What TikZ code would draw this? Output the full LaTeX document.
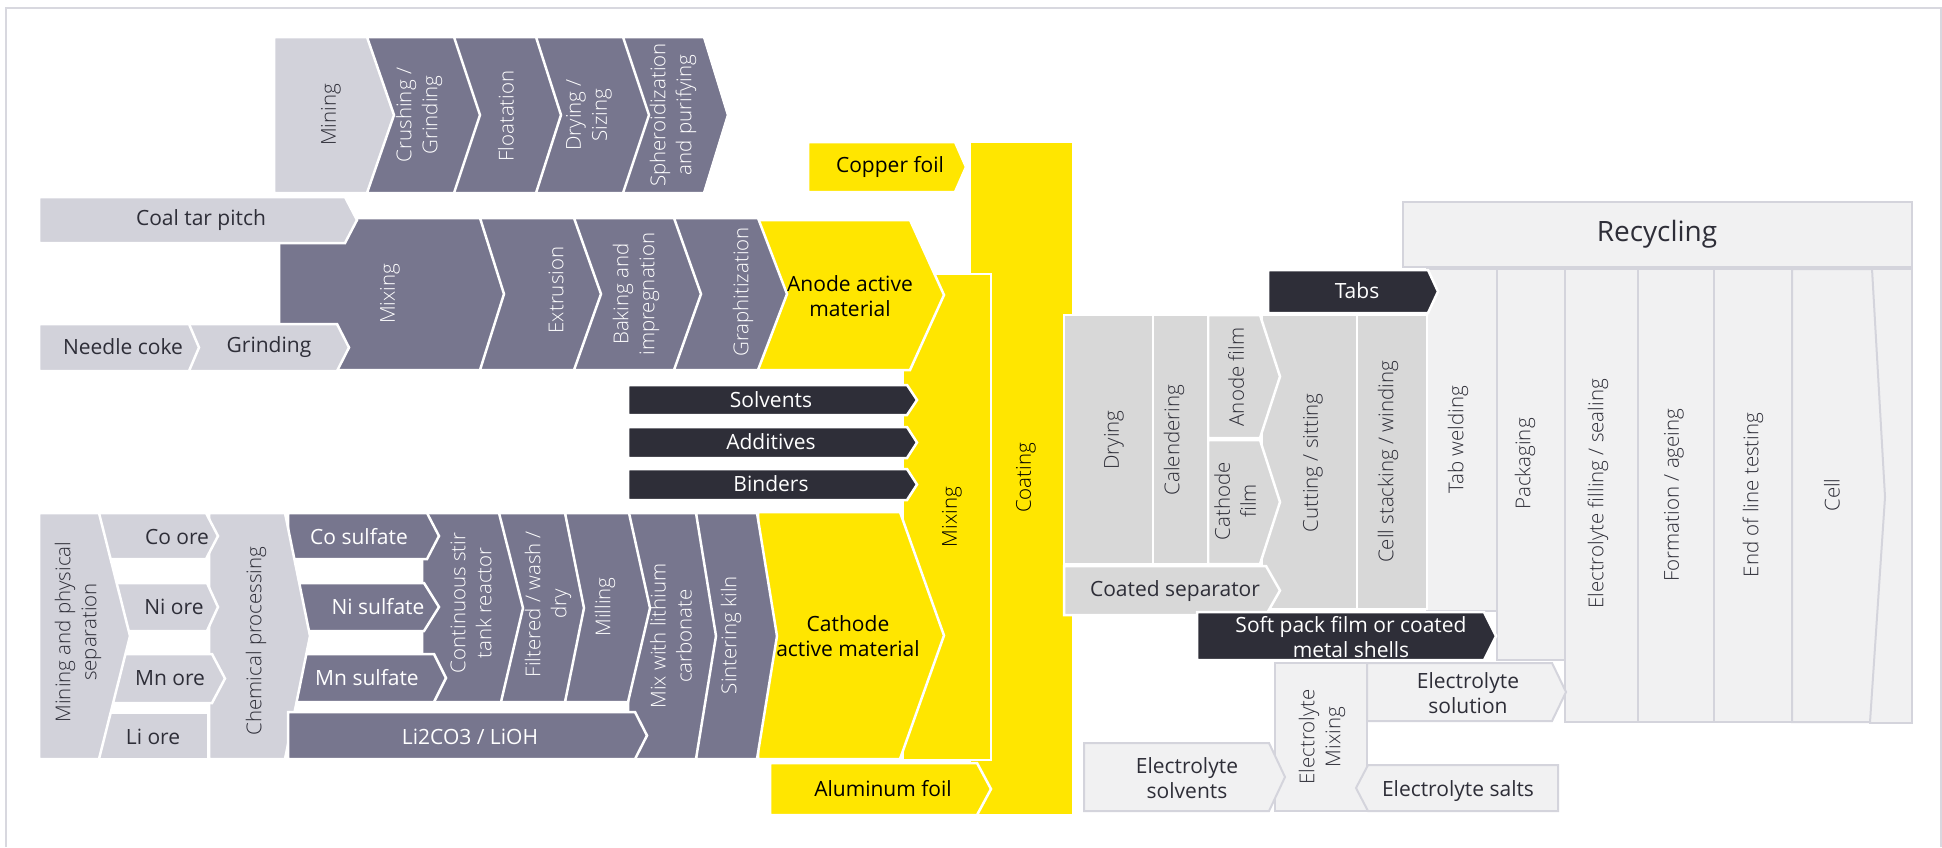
\documentclass[tikz,border=0pt]{standalone}
\usepackage{fontspec}
\setmainfont{Open Sans}
\newfontfamily\lightfont{Open Sans}[UprightFont={* Light}]
\definecolor{cY}{HTML}{FFE600}
\definecolor{cD}{HTML}{2E2E38}
\definecolor{cM}{HTML}{77768E}
\definecolor{cL}{HTML}{D2D2DA}
\definecolor{cG}{HTML}{D8D8D8}
\definecolor{cR}{HTML}{F1F1F2}
\definecolor{cRL}{HTML}{D4D4DC}
\definecolor{cF}{HTML}{D8D8DF}
\newcommand{\chevbox}[6]{\path[#1] (#2,#3) -- (#4,#3) -- ({#4+#6},{(#3+#5)/2}) -- (#4,#5) -- (#2,#5) -- cycle;}
\tikzset{
  base/.style={draw=white, line width=2.5pt, line join=miter},
  ylw/.style={base, fill=cY},
  drk/.style={base, fill=cD},
  mid/.style={base, fill=cM},
  ltg/.style={base, fill=cL},
  cgr/.style={base, fill=cG},
  rcy/.style={draw=cRL, line width=2pt, fill=cR},
  lab/.style={font=\fontsize{21}{25}\selectfont, align=center, inner sep=0pt},
  vlab/.style={rotate=90, font=\lightfont\fontsize{20.5}{26}\selectfont, align=center, inner sep=0pt},
  wtext/.style={text=white},
  dtext/.style={text=cD},
  ytext/.style={text=black}
}
\begin{document}
\begin{tikzpicture}[x=1pt,y=-1pt]
\useasboundingbox (0,0) rectangle (1942,847);
\fill[white] (0,0) rectangle (1942,847);
\draw[cF, line width=2pt] (6,847) -- (6,7.5) -- (1940.5,7.5) -- (1940.5,847);

% ---------- top row (graphite) ----------
\chevbox{mid}{623}{37}{704}{193}{24}
\chevbox{mid}{536}{37}{623}{193}{26}
\chevbox{mid}{454}{37}{536}{193}{25}
\chevbox{mid}{367}{37}{454}{193}{26}
\chevbox{ltg}{274}{37}{367}{193}{27}

% ---------- yellow coating / mixing ----------
\path[ylw] (970,142) rectangle (1073,815);
\chevbox{ylw}{808}{142}{955}{192}{11}
\path[ylw] (903,274) rectangle (991,760);
\chevbox{drk}{628}{385}{907}{415}{10}
\chevbox{drk}{628}{427}{907}{458}{10}
\chevbox{drk}{628}{469}{907}{500}{10}

% ---------- anode row ----------
\chevbox{ylw}{758}{220}{910}{370}{34}
\chevbox{mid}{674}{218}{758}{370}{29}
\chevbox{mid}{574}{218}{674}{370}{27}
\chevbox{mid}{480}{218}{574}{370}{27}
\chevbox{mid}{279}{218}{480}{370}{24}
\chevbox{ltg}{189}{324}{337}{371}{12}
\chevbox{ltg}{39}{324}{189}{371}{10}
\chevbox{ltg}{39}{197}{345}{243}{12}

% ---------- cathode row ----------
\chevbox{ylw}{758}{512}{900}{759}{44}
\chevbox{mid}{696}{513}{757}{759}{20}
\chevbox{mid}{628}{513}{696}{759}{20}
\path[mid] (565,513) -- (629,513) -- (650,608) -- (628,702) -- (565,702) -- cycle;
\path[mid] (499,513) -- (565,513) -- (584,608) -- (565,702) -- (499,702) -- cycle;
\path[mid] (422,513) -- (499,513) -- (523,608) -- (501,702) -- (422,702) -- cycle;
\chevbox{mid}{288}{654}{434}{702}{12}
\chevbox{mid}{288}{583}{424}{631}{15}
\chevbox{mid}{288}{513}{427}{559}{12}
\chevbox{ltg}{209}{513}{285}{759}{25}
\chevbox{mid}{288}{712}{635}{759}{12}
\chevbox{ltg}{99}{513}{206}{559}{12}
\chevbox{ltg}{99}{583}{207}{631}{11}
\chevbox{ltg}{99}{654}{212}{703}{13}
\path[ltg] (99,713) rectangle (208,759);
\chevbox{ltg}{39}{513}{99}{759}{31}
\chevbox{ylw}{770}{763}{977}{815}{14}

% ---------- recycling / cell ----------
\path[rcy] (1403,202) rectangle (1912,267);
\path[rcy] (1870,269) rectangle (1912,723);
\path[rcy] (1792,269) -- (1872,269) -- (1885,497) -- (1870,722) -- (1792,722) -- cycle;
\path[rcy] (1714,269) rectangle (1792,722);
\path[rcy] (1638,269) rectangle (1714,722);
\path[rcy] (1565,269) rectangle (1638,722);
\path[rcy] (1497,269) rectangle (1565,660);
\path[rcy] (1427,269) rectangle (1497,611);
\chevbox{rcy}{1367}{663}{1552}{721}{14}
\path[rcy] (1275,663) rectangle (1367,811);
\chevbox{rcy}{1084}{743}{1269}{811}{16}
\path[rcy] (1368,765) -- (1558,765) -- (1558,811) -- (1368,811) -- (1356,788) -- cycle;

% ---------- electrode / cell assembly ----------
\path[cgr] (1357,315) rectangle (1427,609);
\path[cgr] (1262,315) rectangle (1357,609);
\chevbox{cgr}{1208}{315}{1260}{438}{20}
\chevbox{cgr}{1208}{440}{1260}{564}{20}
\path[cgr] (1153,315) rectangle (1208,564);
\path[cgr] (1064,315) rectangle (1153,564);
\chevbox{cgr}{1064}{566}{1266}{615}{14}
\chevbox{drk}{1268}{270}{1428}{313}{10}
\chevbox{drk}{1197}{612}{1484}{660}{12}

% ---------- labels: top row ----------
\node[vlab, dtext] (mining1) at (331,115) {Mining};
\node[vlab, wtext] (crush) at (419,115) {Crushing /\\Grinding};
\node[vlab, wtext] (floatn) at (506,116) {Floatation};
\node[vlab, wtext] (drysz) at (589,115) {Drying /\\Sizing};
\node[vlab, wtext] (sphero) at (673,115) {Spheroidization\\and purifying};

% ---------- labels: anode ----------
\node[lab, dtext] (coal) at (201,220) {Coal tar pitch};
\node[lab, dtext] (needle) at (123,347) {Needle coke};
\node[lab, dtext] (grind) at (269,347) {Grinding};
\node[vlab, wtext] (amix) at (390,294) {Mixing};
\node[vlab, wtext] (extr) at (556,290) {Extrusion};
\node[vlab, wtext] (bake) at (636,294) {Baking and\\impregnation};
\node[vlab, wtext] (graph) at (743,292) {Graphitization};
\node[lab, ytext] (aam) at (850,296) {Anode active\\material};
\node[lab, ytext] (copper) at (890,167) {Copper foil};
\node[lab, wtext] (solv) at (771,400) {Solvents};
\node[lab, wtext] (addi) at (771,442) {Additives};
\node[lab, wtext] (bind) at (771,484) {Binders};
\node[vlab, ytext] (ymix) at (952,517) {Mixing};
\node[vlab, ytext] (coat) at (1026,478) {Coating};

% ---------- labels: cathode ----------
\node[vlab, dtext] (minsep) at (78,632) {Mining and physical\\separation};
\node[lab, dtext] (coore) at (177,537) {Co ore};
\node[lab, dtext] (niore) at (174,607) {Ni ore};
\node[lab, dtext] (mnore) at (170,678) {Mn ore};
\node[lab, dtext] (liore) at (153,737) {Li ore};
\node[vlab, dtext] (chem) at (256,641) {Chemical processing};
\node[lab, wtext] (cosulf) at (359,537) {Co sulfate};
\node[lab, wtext] (nisulf) at (378,607) {Ni sulfate};
\node[lab, wtext] (mnsulf) at (367,678) {Mn sulfate};
\node[vlab, wtext] (cstr) at (471,603) {Continuous stir\\tank reactor};
\node[vlab, wtext] (filt) at (548,604) {Filtered / wash /\\dry};
\node[vlab, wtext] (mill) at (605,607) {Milling};
\node[vlab, wtext] (mixli) at (671,636) {Mix with lithium\\carbonate};
\node[vlab, wtext] (sinter) at (731,635) {Sintering kiln};
\node[lab, wtext] (li2co3) at (470,737) {Li2CO3 / LiOH};
\node[lab, ytext] (cam) at (848,636) {Cathode\\active material};
\node[lab, ytext] (alu) at (883,789) {Aluminum foil};

% ---------- labels: cell ----------
\node[vlab, dtext] (dry) at (1114,440) {Drying};
\node[vlab, dtext] (cal) at (1174,440) {Calendering};
\node[vlab, dtext] (afilm) at (1236,377) {Anode film};
\node[vlab, dtext] (cfilm) at (1235,501) {Cathode\\film};
\node[lab, dtext] (csep) at (1175,591) {Coated separator};
\node[vlab, dtext] (cut) at (1313,463) {Cutting / sitting};
\node[vlab, dtext] (stack) at (1388,462) {Cell stacking / winding};
\node[lab, wtext] (tabs) at (1357,291) {Tabs};
\node[vlab, dtext] (tabw) at (1458,440) {Tab welding};
\node[vlab, dtext] (pack) at (1525,464) {Packaging};
\node[vlab, dtext] (efill) at (1598,494) {Electrolyte filling / sealing};
\node[vlab, dtext] (form) at (1674,495) {Formation / ageing};
\node[vlab, dtext] (eol) at (1753,495) {End of line testing};
\node[vlab, dtext] (cell) at (1832,495) {Cell};
\node[lab, dtext, font=\fontsize{28}{32}\selectfont] (recyc) at (1657,234) {Recycling};
\node[lab, wtext] (soft) at (1351,637) {Soft pack film or coated\\metal shells};
\node[lab, dtext] (esol) at (1468,693) {Electrolyte\\solution};
\node[vlab, dtext] (emix) at (1322,737) {Electrolyte\\Mixing};
\node[lab, dtext] (esolv) at (1187,778) {Electrolyte\\solvents};
\node[lab, dtext] (esalt) at (1458,791) {Electrolyte salts};
\end{tikzpicture}
\end{document}
